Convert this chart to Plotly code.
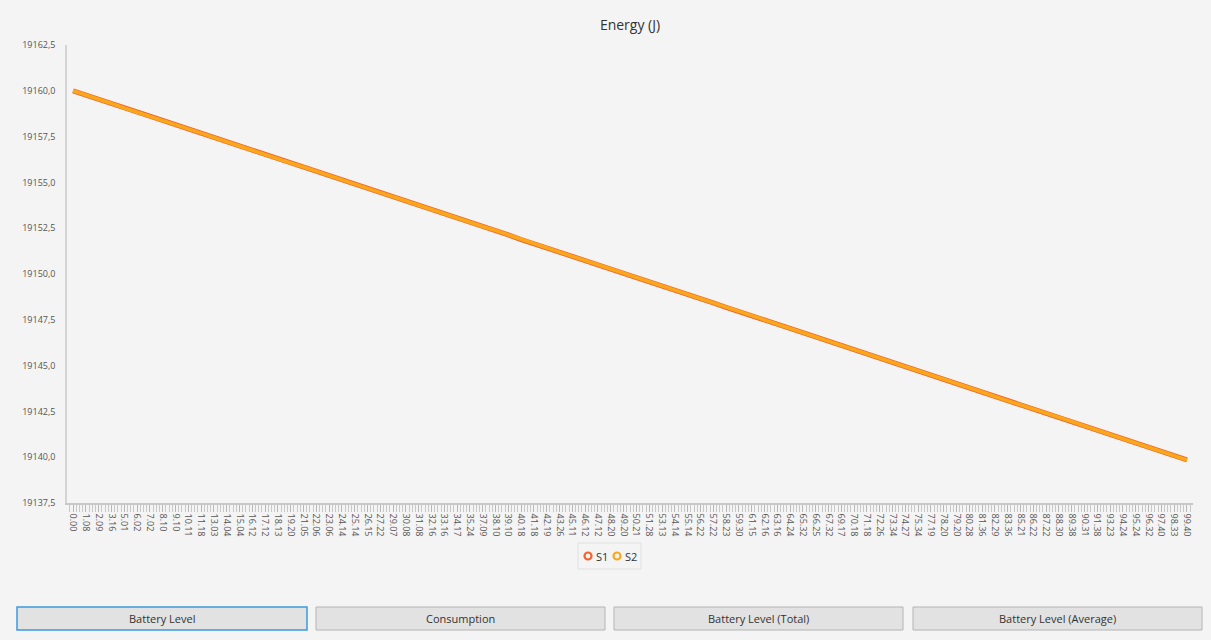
import plotly.graph_objects as go

# ---- data ----
time_labels = ["0.00","1.08","2.09","3.16","5.01","6.02","7.02","8.10","9.10","10.11",
    "11.18","13.03","14.04","15.04","16.12","17.12","18.13","19.20","21.05","22.06",
    "23.06","24.14","25.14","26.15","27.22","29.07","30.08","31.08","32.16","33.16",
    "34.17","35.24","37.09","38.10","39.10","40.18","41.18","42.19","43.26","45.11",
    "46.12","47.12","48.20","49.20","50.21","51.28","53.13","54.14","55.14","56.22",
    "57.22","58.23","59.30","61.15","62.16","63.16","64.24","65.32","66.25","67.32",
    "69.17","70.18","71.18","72.26","73.34","74.27","75.34","77.19","78.20","79.20",
    "80.28","81.36","82.29","83.36","85.21","86.22","87.22","88.30","89.38","90.31",
    "91.38","93.23","94.24","95.24","96.32","97.40","98.33","99.40"]

s1_energy = [19160.00,19159.78,19159.55,19159.31,19159.06,19158.84,19158.62,19158.38,19158.15,19157.93,
    19157.69,19157.45,19157.21,19156.99,19156.77,19156.53,19156.28,19156.06,19155.84,19155.60,
    19155.37,19155.15,19154.90,19154.66,19154.44,19154.22,19153.98,19153.74,19153.52,19153.29,
    19153.05,19152.81,19152.59,19152.37,19152.13,19151.88,19151.66,19151.44,19151.20,19150.96,
    19150.74,19150.51,19150.27,19150.03,19149.81,19149.59,19149.35,19149.10,19148.88,19148.66,
    19148.42,19148.18,19147.96,19147.74,19147.49,19147.25,19147.03,19146.81,19146.57,19146.33,
    19146.10,19145.88,19145.65,19145.41,19145.17,19144.95,19144.72,19144.47,19144.24,19144.02,
    19143.80,19143.56,19143.31,19143.09,19142.87,19142.63,19142.39,19142.17,19141.95,19141.70,
    19141.46,19141.24,19141.02,19140.78,19140.54,19140.31,19140.08,19139.85]

s2_energy = list(s1_energy)

series_names = ["S1", "S2"]
series_colors = ["#f3622d", "#fba71b"]

button_labels = ["Battery Level", "Consumption", "Battery Level (Total)", "Battery Level (Average)"]

# ---- figure ----
W, H = 1211, 640
ML, MR, MT, MB = 67, 18, 45, 137
PW, PH = W - ML - MR, H - MT - MB

def px_x(x):
    return (x - ML) / PW

def px_y(y):
    return (H - MB - y) / PH

idx = list(range(len(time_labels)))
fig = go.Figure()

fig.add_trace(go.Scatter(x=idx, y=s1_energy, mode="lines", name=series_names[0],
                         line=dict(color=series_colors[0], width=5), showlegend=False,
                         hoverinfo="skip"))
fig.add_trace(go.Scatter(x=idx, y=s2_energy, mode="lines", name=series_names[1],
                         line=dict(color=series_colors[1], width=3.6), showlegend=False,
                         hoverinfo="skip"))

font_family = "Open Sans, Noto Sans, sans-serif"

fig.update_layout(
    width=W, height=H,
    margin=dict(l=ML, r=MR, t=MT, b=MB),
    paper_bgcolor="#f4f4f4", plot_bgcolor="#f4f4f4",
    separators=",.",
    font=dict(family=font_family, color="#333333"),
    title=dict(text="Energy (J)", x=0.5, xanchor="center", xref="paper",
               y=1 - 25 / H, yanchor="middle", font=dict(size=14, color="#333333")),
    showlegend=False,
    xaxis=dict(
        range=[-0.47, len(time_labels) - 1 + 0.47],
        tickmode="array", tickvals=idx, ticktext=time_labels,
        tickangle=90, tickfont=dict(size=9, color="#555555"),
        ticks="outside", ticklen=7, tickcolor="#b8b8b8", tickwidth=1,
        minor=dict(dtick=0.25, tick0=0, ticks="outside", ticklen=7, tickcolor="#c8c8c8",
                   tickwidth=1, showgrid=False),
        showline=True, linecolor="#c8c8c8", linewidth=1.5,
        showgrid=False, zeroline=False, fixedrange=True,
    ),
    yaxis=dict(
        range=[19137.5, 19162.5], dtick=2.5, tick0=19137.5, tickformat=".1f",
        tickfont=dict(size=9, color="#555555"),
        ticks="outside", ticklen=8, tickcolor="rgba(0,0,0,0)",
        showline=True, linecolor="#d4d4d4", linewidth=1.5,
        showgrid=False, zeroline=False, fixedrange=True,
    ),
)

# legend (drawn manually for compact JavaFX-like look)
fig.add_shape(type="rect", xref="paper", yref="paper",
              x0=px_x(578), x1=px_x(641), y0=px_y(569), y1=px_y(543),
              fillcolor="#f4f4f4", line=dict(color="#e0e0e0", width=1))
leg_x = [588, 617]
for n, c, lx in zip(series_names, series_colors, leg_x):
    fig.add_shape(type="circle", xref="paper", yref="paper",
                  x0=px_x(lx - 3.5), x1=px_x(lx + 3.5), y0=px_y(559.5), y1=px_y(552.5),
                  fillcolor="rgba(0,0,0,0)", line=dict(color=c, width=2.2))
    fig.add_annotation(xref="paper", yref="paper", x=px_x(lx + 6), y=px_y(556),
                       text=n, showarrow=False, xanchor="left", yanchor="middle",
                       font=dict(size=11, color="#333333"))

# buttons
btn_x = [(17, 307), (316, 605), (614, 903), (913, 1202)]
for i, (lab, (x0, x1)) in enumerate(zip(button_labels, btn_x)):
    fig.add_shape(type="rect", xref="paper", yref="paper",
                  x0=px_x(x0), x1=px_x(x1), y0=px_y(630), y1=px_y(607),
                  fillcolor="#e2e2e2",
                  line=dict(color="#3b9be0" if i == 0 else "#b4b4b4", width=1.5 if i == 0 else 1),
                  layer="above")
    fig.add_annotation(xref="paper", yref="paper", x=px_x((x0 + x1) / 2), y=px_y(618.5),
                       text=lab, showarrow=False, xanchor="center", yanchor="middle",
                       font=dict(size=11, color="#333333"))

fig.write_html("out.html", config={"displayModeBar": False},
               post_script="document.body.style.margin='0';document.body.style.background='#f4f4f4';")
